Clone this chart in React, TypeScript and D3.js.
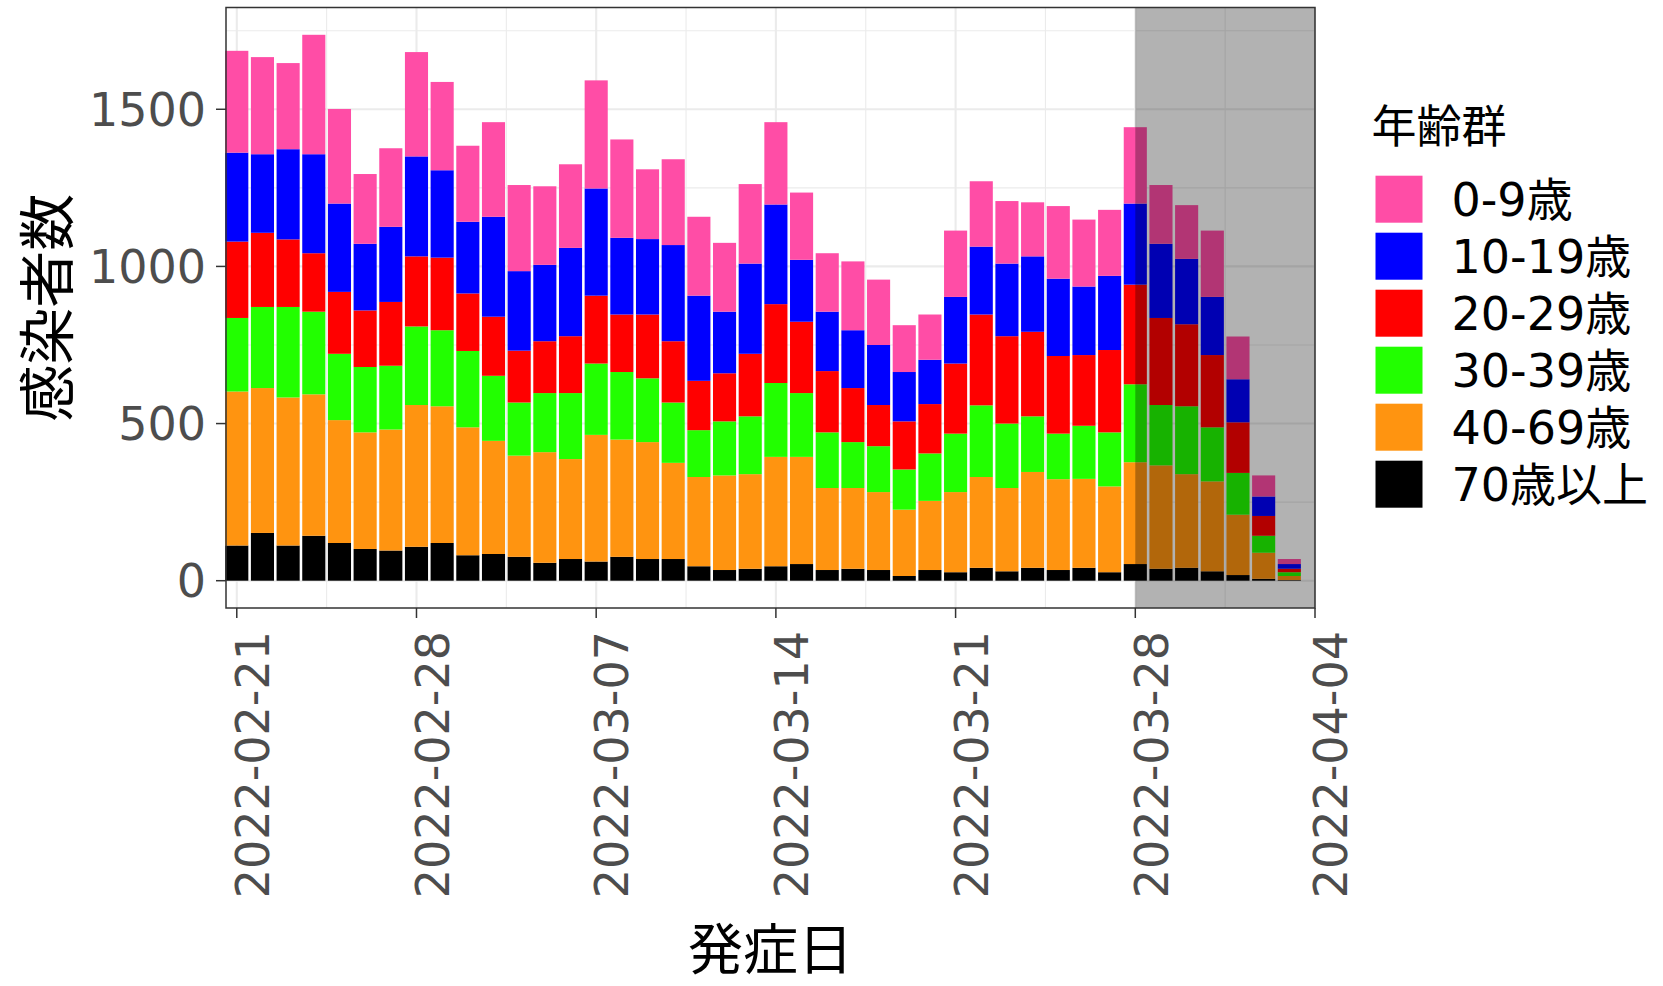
import { useEffect, useRef } from 'react';
import * as d3 from 'd3';

const W = 1663;
const H = 986;

const startDate = new Date(Date.UTC(2022, 1, 21));
const shadeFrom = new Date(Date.UTC(2022, 2, 28));
const xEnd = new Date(Date.UTC(2022, 3, 4));

const groups = ['0-9歳', '10-19歳', '20-29歳', '30-39歳', '40-69歳', '70歳以上'];
const groupColors = ['#FF4DA6', '#0000FF', '#FF0000', '#22FF00', '#FF9410', '#000000'];

// daily counts per age group, starting 2022-02-21
const age0_9 = [324, 309, 274, 380, 301, 222, 250, 332, 281, 242, 301, 274, 250, 266, 344, 313, 222, 273, 251, 219, 253, 262, 214, 186, 219, 208, 149, 144, 211, 208, 199, 172, 231, 213, 210, 243, 187, 171, 211, 136, 67, 16];
const age10_19 = [283, 250, 287, 315, 281, 212, 239, 318, 278, 228, 318, 253, 243, 281, 341, 244, 240, 306, 271, 196, 287, 317, 197, 189, 184, 191, 157, 141, 212, 216, 231, 240, 246, 218, 236, 258, 236, 208, 185, 137, 62, 15];
const age20_29 = [243, 236, 215, 186, 197, 180, 203, 223, 231, 183, 188, 165, 165, 181, 216, 183, 203, 195, 157, 153, 199, 251, 227, 195, 172, 131, 153, 157, 223, 289, 278, 269, 247, 225, 262, 317, 277, 261, 230, 161, 63, 11];
const age30_39 = [234, 258, 288, 263, 211, 208, 203, 250, 242, 243, 207, 169, 188, 210, 227, 215, 203, 192, 149, 172, 184, 235, 203, 177, 146, 146, 128, 151, 186, 228, 205, 177, 145, 169, 172, 248, 192, 216, 172, 133, 54, 12];
const age40_69 = [490, 461, 471, 450, 391, 371, 385, 451, 435, 407, 360, 322, 352, 318, 403, 373, 372, 306, 284, 301, 301, 348, 341, 261, 257, 248, 211, 220, 255, 289, 265, 305, 289, 283, 273, 324, 329, 298, 286, 192, 83, 13];
const age70plus = [112, 152, 112, 143, 120, 101, 96, 108, 120, 81, 85, 76, 57, 69, 61, 76, 69, 69, 46, 34, 38, 46, 53, 34, 38, 34, 15, 34, 27, 41, 30, 41, 34, 41, 27, 53, 38, 41, 30, 18, 6, 2];

const yTicks = [0, 500, 1000, 1500];
const yMinor = [250, 750, 1250, 1750];

export default function App() {
  const svgRef = useRef<SVGSVGElement>(null);

  useEffect(() => {
    if (!svgRef.current) return;
    const svg = d3.select(svgRef.current);
    svg.selectAll('*').remove();

    const panel = { left: 226, right: 1315, top: 7.5, bottom: 608 };
    const day = 86400000;

    const series = [age0_9, age10_19, age20_29, age30_39, age40_69, age70plus];
    const rows = age0_9.map((_, i) => {
      const row: any = { date: new Date(startDate.getTime() + i * day) };
      groups.forEach((g, k) => (row[g] = series[k][i]));
      return row;
    });

    // stacked bottom-up: 70+ at the bottom, 0-9 on top
    const stackKeys = groups.slice().reverse();
    const stacked = d3.stack<any>().keys(stackKeys)(rows);

    const maxTotal = d3.max(rows, r => d3.sum(groups, g => r[g])) as number;
    const pad = maxTotal * 0.05;

    const x = d3.scaleUtc()
      .domain([new Date(startDate.getTime() - 0.42 * day), xEnd])
      .range([panel.left, panel.right]);
    const y = d3.scaleLinear()
      .domain([-pad, maxTotal + pad])
      .range([panel.bottom, panel.top]);

    svg.append('rect').attr('width', W).attr('height', H).attr('fill', '#ffffff');

    // weekly breaks on Mondays (2022-02-21 is a Monday)
    const xTicks = d3.utcMonday.range(startDate, new Date(xEnd.getTime() + 1));
    const xMinor = xTicks.slice(0, -1).map(d => new Date(d.getTime() + 3.5 * day));

    const grid = svg.append('g');
    yMinor.forEach(v => {
      grid.append('line')
        .attr('x1', panel.left).attr('x2', panel.right)
        .attr('y1', y(v)).attr('y2', y(v))
        .attr('stroke', '#ebebeb').attr('stroke-width', 1.1);
    });
    xMinor.forEach(d => {
      grid.append('line')
        .attr('x1', x(d)).attr('x2', x(d))
        .attr('y1', panel.top).attr('y2', panel.bottom)
        .attr('stroke', '#ebebeb').attr('stroke-width', 1.1);
    });
    yTicks.forEach(v => {
      grid.append('line')
        .attr('x1', panel.left).attr('x2', panel.right)
        .attr('y1', y(v)).attr('y2', y(v))
        .attr('stroke', '#ebebeb').attr('stroke-width', 2.1);
    });
    xTicks.forEach(d => {
      grid.append('line')
        .attr('x1', x(d)).attr('x2', x(d))
        .attr('y1', panel.top).attr('y2', panel.bottom)
        .attr('stroke', '#ebebeb').attr('stroke-width', 2.1);
    });

    // Bars
    const barW = x(new Date(startDate.getTime() + 0.9 * day)) - x(startDate);
    const bars = svg.append('g');
    stacked.forEach(layer => {
      const color = groupColors[groups.indexOf(layer.key)];
      bars.append('g')
        .selectAll('rect')
        .data(layer)
        .join('rect')
        .attr('x', d => x(d.data.date) - barW / 2)
        .attr('width', barW)
        .attr('y', d => y(d[1]))
        .attr('height', d => y(d[0]) - y(d[1]))
        .attr('fill', color);
    });

    // Shaded (incomplete) period
    svg.append('rect')
      .attr('x', x(shadeFrom))
      .attr('y', panel.top)
      .attr('width', panel.right - x(shadeFrom))
      .attr('height', panel.bottom - panel.top)
      .attr('fill', '#000000')
      .attr('fill-opacity', 0.3);

    // Panel border
    svg.append('rect')
      .attr('x', panel.left).attr('y', panel.top)
      .attr('width', panel.right - panel.left)
      .attr('height', panel.bottom - panel.top)
      .attr('fill', 'none')
      .attr('stroke', '#333333')
      .attr('stroke-width', 1.5);

    const tickFont = '"DejaVu Sans", "Noto Sans CJK JP", sans-serif';

    // Y axis
    yTicks.forEach(v => {
      svg.append('line')
        .attr('x1', panel.left - 10).attr('x2', panel.left)
        .attr('y1', y(v)).attr('y2', y(v))
        .attr('stroke', '#333333').attr('stroke-width', 1.5);
      svg.append('text')
        .attr('x', panel.left - 20)
        .attr('y', y(v))
        .attr('dy', '0.36em')
        .attr('text-anchor', 'end')
        .attr('fill', '#4d4d4d')
        .attr('font-size', 46)
        .attr('font-family', tickFont)
        .text(String(v));
    });

    // X axis
    const fmt = d3.utcFormat('%Y-%m-%d');
    xTicks.forEach(d => {
      const tx = x(d);
      svg.append('line')
        .attr('x1', tx).attr('x2', tx)
        .attr('y1', panel.bottom).attr('y2', panel.bottom + 10)
        .attr('stroke', '#333333').attr('stroke-width', 1.5);
      svg.append('text')
        .attr('transform', `translate(${tx}, ${panel.bottom + 23}) rotate(-90)`)
        .attr('dy', '0.7em')
        .attr('text-anchor', 'end')
        .attr('fill', '#4d4d4d')
        .attr('font-size', 46)
        .attr('font-family', tickFont)
        .text(fmt(d));
    });

    const cjkFont = '"Noto Sans CJK JP", sans-serif';

    // Axis titles
    svg.append('text')
      .attr('x', (panel.left + panel.right) / 2)
      .attr('y', 969)
      .attr('text-anchor', 'middle')
      .attr('fill', '#000000')
      .attr('font-size', 55)
      .attr('font-family', cjkFont)
      .text('発症日');

    svg.append('text')
      .attr('transform', `translate(47, ${(panel.top + panel.bottom) / 2}) rotate(-90)`)
      .attr('dy', '0.36em')
      .attr('text-anchor', 'middle')
      .attr('fill', '#000000')
      .attr('font-size', 57)
      .attr('font-family', cjkFont)
      .text('感染者数');

    // Legend
    const lg = svg.append('g').attr('transform', 'translate(1375.5, 0)');
    lg.append('text')
      .attr('x', -4)
      .attr('y', 127)
      .attr('dy', '0.36em')
      .attr('fill', '#000000')
      .attr('font-size', 45)
      .attr('font-family', cjkFont)
      .text('年齢群');

    groups.forEach((g, i) => {
      const top = 175.7 + i * 57;
      lg.append('rect')
        .attr('x', 0).attr('y', top)
        .attr('width', 47).attr('height', 47)
        .attr('fill', groupColors[i]);
      lg.append('text')
        .attr('x', 76)
        .attr('y', top + 23.5)
        .attr('dy', '0.36em')
        .attr('fill', '#000000')
        .attr('font-size', 46)
        .attr('font-family', tickFont)
        .text(g);
    });
  }, []);

  return (
    <svg
      ref={svgRef}
      width={W}
      height={H}
      viewBox={`0 0 ${W} ${H}`}
      style={{ display: 'block', position: 'absolute', left: 0, top: 0 }}
    />
  );
}
